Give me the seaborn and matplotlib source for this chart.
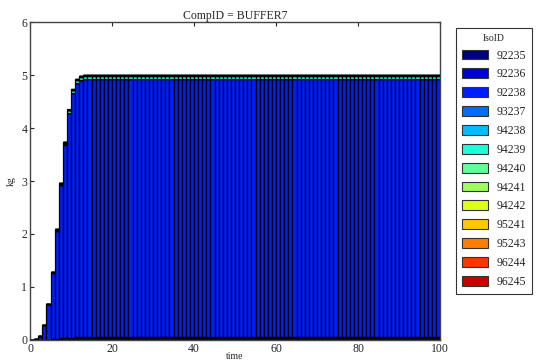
import numpy as np
import pandas as pd
import matplotlib
matplotlib.use("Agg")
import matplotlib.pyplot as plt
from matplotlib.patches import Patch
import seaborn as sns

# ---- data ----
iso_ids = ["92235", "92236", "92238", "93237", "94238", "94239", "94240",
           "94241", "94242", "95241", "95243", "96244", "96245"]
# total mass per time step (bars span [t, t+1])
time_start = list(range(0, 100))
total_kg = [0.0, 0.01, 0.08, 0.28, 0.68, 1.29, 2.09, 2.96, 3.74, 4.35, 4.73,
            4.92, 4.98] + [5.0] * 87
# mass fraction of each isotope in the stack
iso_fraction = [0.0090, 0.0004, 0.9766, 0.0004, 0.0004, 0.0090, 0.0020,
                0.0008, 0.0004, 0.0003, 0.0002, 0.0002, 0.0003]

rows = []
for t, tot in zip(time_start, total_kg):
    for iso, fr in zip(iso_ids, iso_fraction):
        rows.append({"time": t + 0.5, "kg": tot * fr, "IsoID": iso})
df = pd.DataFrame(rows)

colors = [plt.cm.jet(v) for v in np.linspace(0.0, 0.93, len(iso_ids))]
palette = dict(zip(iso_ids, colors))

sns.set_style("ticks")
plt.rcParams["font.family"] = ["Liberation Serif", "DejaVu Serif"]

fig = plt.figure(figsize=(5.36, 3.62), dpi=100)
ax = fig.add_axes([0.056, 0.061, 0.765, 0.878])

sns.histplot(data=df, x="time", weights="kg", hue="IsoID",
             hue_order=iso_ids[::-1], palette=palette, multiple="stack",
             binwidth=1, binrange=(0, 100), edgecolor="black", linewidth=0.9,
             alpha=1.0, legend=False, ax=ax)

ax.set_xlim(0, 100)
ax.set_ylim(0, 6)
ax.set_xticks([0, 20, 40, 60, 80, 100])
ax.set_yticks([0, 1, 2, 3, 4, 5, 6])
ax.tick_params(direction="in", top=True, right=True, labelsize=8.5,
               length=3, width=0.8, pad=2)
for s in ax.spines.values():
    s.set_color("#444444")
    s.set_linewidth(1.0)
ax.set_xlabel("time", fontsize=7, labelpad=-2)
ax.set_ylabel("kg", fontsize=7, labelpad=4)
ax.set_title("CompID = BUFFER7", fontsize=8.5, pad=2)

handles = [Patch(facecolor=palette[i], edgecolor="#333333", linewidth=0.8,
                 label=i) for i in iso_ids]
leg = fig.legend(handles=handles, title="IsoID", loc="upper left",
                 bbox_to_anchor=(0.851, 0.923), frameon=True, fancybox=False,
                 borderaxespad=0.0,
                 edgecolor="black", fontsize=8.5, title_fontsize=7,
                 handlelength=2.2, handleheight=0.9, labelspacing=0.58,
                 borderpad=0.5, handletextpad=0.7)
leg.get_frame().set_linewidth(0.8)

fig.savefig("out.png", dpi=100)
